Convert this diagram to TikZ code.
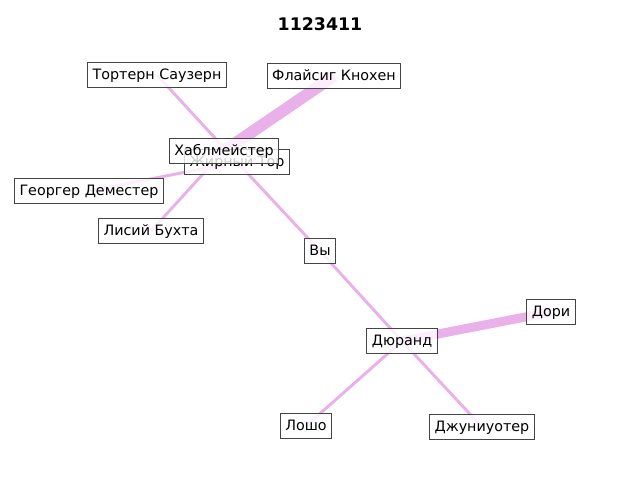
\documentclass[tikz,border=0pt]{standalone}
\usepackage{fontspec}
\setmainfont{DejaVu Sans}
\usetikzlibrary{backgrounds}
\definecolor{edgeviolet}{RGB}{233,176,233}
\definecolor{boxgray}{RGB}{68,68,68}

\begin{document}
\begin{tikzpicture}[x=0.72pt,y=-0.72pt,
    person/.style={draw=boxgray,line width=0.8pt,fill=white,fill opacity=0.8,text opacity=1,
        inner xsep=3.6pt,inner ysep=4.2pt,text height=7.8pt,text depth=2pt,font=\fontsize{10.3}{12}\selectfont},
    link/.style={draw=edgeviolet,line width=2.1pt}]
    \useasboundingbox (0,0) rectangle (640,480);
    \node[font=\bfseries\fontsize{12.5}{15}\selectfont] (title) at (320,24) {1123411};

    \node[person] (Tortern) at (157,75) {Тортерн Саузерн};
    \node[person] (Flaysig) at (334,76) {Флайсиг Кнохен};
    \node[person] (Zhirny) at (237,162) {Жирный Тор};
    \node[person] (Hablm) at (224,151) {Хаблмейстер};
    \node[person] (Georger) at (89,191) {Георгер Деместер};
    \node[person] (Lisiy) at (151,231) {Лисий Бухта};
    \node[person] (Vy) at (320,251) {Вы};
    \node[person] (Durand) at (402,341) {Дюранд};
    \node[person] (Dori) at (551,312) {Дори};
    \node[person] (Losho) at (306,426) {Лошо};
    \node[person] (Junior) at (482,427) {Джуниуотер};

    \begin{pgfonlayer}{background}
    \path [link] (Tortern.center) -- (Zhirny.center);
    \path [link] (Zhirny.center) -- (Vy.center);
    \path [link] (Vy.center) -- (Durand.center);
    \path [link] (Durand.center) -- (Junior.center);
    \path [link] (Georger.center) -- (Zhirny.center);
    \path [link] (Lisiy.center) -- (Hablm.center);
    \path [link] (Durand.center) -- (Losho.center);
    \path [link,line width=8.5pt] (Flaysig.center) -- (Hablm.center);
    \path [link,line width=6.5pt] (Durand.center) -- (Dori.center);
    \end{pgfonlayer}
\end{tikzpicture}
\end{document}
